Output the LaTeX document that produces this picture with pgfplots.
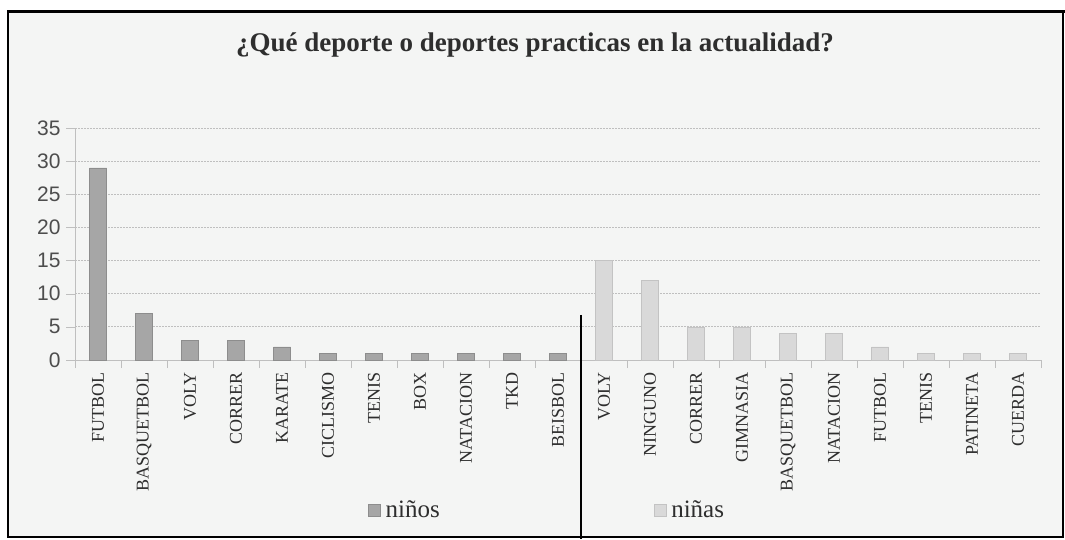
\documentclass[border=0pt]{standalone}
\usepackage{pgfplots}
\pgfplotsset{compat=1.18}
\usepackage{fontspec}
\setmainfont{Liberation Serif}
\newfontfamily\sansf{Liberation Sans}
\definecolor{bg}{HTML}{F4F5F4}
\definecolor{gridc}{HTML}{BFBFBF}
\definecolor{ninos}{HTML}{A6A6A6}
\definecolor{ninas}{HTML}{D9D9D9}
\definecolor{txt}{HTML}{2E2E2E}

\pgfplotsset{
  base/.style={
    scale only axis, width=966pt, height=232pt,
    anchor=south west, at={(75pt,-360pt)},
    xmin=-0.5, xmax=20.5, ymin=0, ymax=35,
    clip=false,
    legend style={draw=none, fill=none, anchor=center,
      font=\fontsize{25}{25}\selectfont, text=txt,
      legend cell align=left, column sep=3pt},
    legend image code/.code={\fill[##1] (0pt,-6pt) rectangle (12pt,6pt);},
  },
}

\begin{document}
\begin{tikzpicture}
\useasboundingbox (0,0) rectangle (1065pt,-539pt);
\fill[bg] (8pt,-11pt) rectangle (1063pt,-537pt);

\begin{axis}[base,
    axis x line*=bottom, axis y line*=left,
    axis line style={gridc},
    xtick={0,...,20},
    xticklabels={FUTBOL,BASQUETBOL,VOLY,CORRER,KARATE,CICLISMO,TENIS,BOX,NATACION,TKD,BEISBOL,
                 VOLY,NINGUNO,CORRER,GIMNASIA,BASQUETBOL,NATACION,FUTBOL,TENIS,PATINETA,CUERDA},
    minor xtick={-0.5,0.5,...,20.5},
    xtick style={draw=none},
    minor x tick style={draw=gridc},
    minor tick length=8pt,
    ytick={0,5,...,35},
    major tick length=9pt,
    tick align=outside,
    y tick style={draw=gridc},
    ymajorgrids,
    major grid style={gridc, dash pattern=on 2pt off 1pt, line width=0.8pt},
    xticklabel style={rotate=90, anchor=east, text=txt,
      font=\fontsize{18}{18}\selectfont},
    yticklabel style={text=txt!85, font=\sansf\fontsize{21}{21}\selectfont, xshift=-2pt},
    /pgf/number format/assume math mode=true,
    legend style={at={(0.3416,-0.6466)}},
  ]
  \addplot[ybar, bar width=17pt, fill=ninos, draw=ninos!85!black] coordinates {
    (0,29) (1,7) (2,3) (3,3) (4,2) (5,1) (6,1) (7,1) (8,1) (9,1) (10,1)
  };
  \addlegendentry{niños}
  \draw[black, line width=1.5pt] (axis cs:10.5,6.8) -- (axis cs:10.5,-27);
\end{axis}

\begin{axis}[base, hide axis,
    legend style={at={(0.6366,-0.6466)}},
  ]
  \addplot[ybar, bar width=17pt, fill=ninas, draw=ninas!90!black] coordinates {
    (11,15) (12,12) (13,5) (14,5) (15,4) (16,4) (17,2) (18,1) (19,1) (20,1)
  };
  \addlegendentry{niñas}
\end{axis}

\node[text=txt, font=\bfseries\fontsize{27}{27}\selectfont] at (535pt,-45pt)
  {¿Qué deporte o deportes practicas en la actualidad?};
\draw[black, line width=2pt] (8pt,-11pt) rectangle (1063pt,-537pt);
\draw[black, line width=3pt] (7pt,-11pt) -- (1065pt,-11pt);
\end{tikzpicture}
\end{document}
